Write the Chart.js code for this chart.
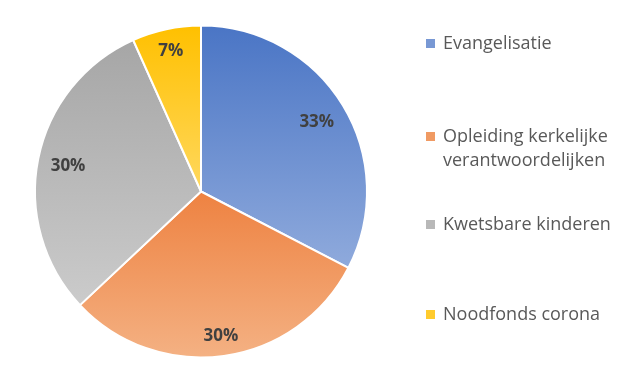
<!DOCTYPE html>
<html>
<head>
<meta charset="utf-8">
<script src="https://cdn.jsdelivr.net/npm/chart.js@4"></script>
<style>
html,body{margin:0;padding:0;background:#fff;}
#wrap{position:relative;width:634px;height:373px;}
</style>
</head>
<body>
<div id="wrap"><canvas id="c" width="634" height="373"></canvas></div>
<script>
// ---- data ----
const categories = ["Evangelisatie", "Opleiding kerkelijke verantwoordelijken", "Kwetsbare kinderen", "Noodfonds corona"];
const shares = [32.6, 30.4, 30.3, 6.7];
const pctLabels = ["33%", "30%", "30%", "7%"];

// ---- styles ----
const gradTop = ["#4a75c5", "#ee8241", "#a6a6a6", "#ffc000"];
const gradBottom = ["#8faadc", "#f4b183", "#cbcbcb", "#ffd85e"];
const legendSwatch = ["#7898d4", "#f09a63", "#b8b8b8", "#ffcb2e"];
const FONT = "'Open Sans', Lato, sans-serif";

const gradientPlugin = {
  id: 'sliceGradient',
  beforeDatasetsDraw(chart) {
    const ctx = chart.ctx;
    const meta = chart.getDatasetMeta(0);
    meta.data.forEach((arc, i) => {
      const p = arc.getProps(['x', 'y', 'startAngle', 'endAngle', 'outerRadius'], true);
      const ys = [p.y, p.y + p.outerRadius * Math.sin(p.startAngle), p.y + p.outerRadius * Math.sin(p.endAngle)];
      const TAU = Math.PI * 2;
      for (let k = -2; k <= 2; k++) {
        const top = -Math.PI / 2 + k * TAU, bot = Math.PI / 2 + k * TAU;
        if (top > p.startAngle && top < p.endAngle) ys.push(p.y - p.outerRadius);
        if (bot > p.startAngle && bot < p.endAngle) ys.push(p.y + p.outerRadius);
      }
      const y0 = Math.min(...ys), y1 = Math.max(...ys);
      const g = ctx.createLinearGradient(0, y0, 0, y1);
      g.addColorStop(0, gradTop[i]);
      g.addColorStop(1, gradBottom[i]);
      arc.options.backgroundColor = g;
    });
  }
};

const labelPlugin = {
  id: 'pctLabels',
  afterDatasetsDraw(chart) {
    const ctx = chart.ctx;
    const meta = chart.getDatasetMeta(0);
    ctx.save();
    ctx.font = "bold 17px " + FONT;
    ctx.fillStyle = "#404040";
    ctx.textAlign = "center";
    ctx.textBaseline = "middle";
    meta.data.forEach((arc, i) => {
      const p = arc.getProps(['x', 'y', 'startAngle', 'endAngle', 'outerRadius'], true);
      const mid = (p.startAngle + p.endAngle) / 2;
      const w = ctx.measureText(pctLabels[i]).width;
      const h = 14;
      const ext = Math.abs(w / 2 * Math.cos(mid)) + Math.abs(h / 2 * Math.sin(mid));
      const r = p.outerRadius - 12 - ext;
      ctx.fillText(pctLabels[i], p.x + r * Math.cos(mid), p.y + r * Math.sin(mid) + 1);
    });
    ctx.restore();
  }
};

const legendPlugin = {
  id: 'sideLegend',
  afterDraw(chart, args, opts) {
    const ctx = chart.ctx;
    ctx.save();
    ctx.font = "18px " + FONT;
    ctx.textBaseline = "alphabetic";
    ctx.textAlign = "left";
    categories.forEach((name, i) => {
      const words = name.split(' ');
      const lines = [];
      let cur = '';
      words.forEach(wd => {
        const t = cur ? cur + ' ' + wd : wd;
        if (ctx.measureText(t).width > opts.maxWidth && cur) { lines.push(cur); cur = wd; }
        else cur = t;
      });
      lines.push(cur);
      const base = opts.baselines[i];
      ctx.fillStyle = legendSwatch[i];
      ctx.fillRect(opts.boxX, base - 10, 9, 9);
      ctx.fillStyle = "#595959";
      lines.forEach((ln, j) => ctx.fillText(ln, opts.textX, base + j * opts.lineHeight));
    });
    ctx.restore();
  }
};

new Chart(document.getElementById('c'), {
  type: 'pie',
  data: {
    labels: categories,
    datasets: [{
      data: shares,
      backgroundColor: gradTop,
      borderColor: '#ffffff',
      borderWidth: 2
    }]
  },
  options: {
    responsive: false,
    animation: false,
    radius: 166,
    layout: { padding: { left: 0, right: 232, top: 10, bottom: 0 } },
    plugins: {
      legend: { display: false },
      tooltip: { enabled: false },
      sideLegend: { boxX: 426, textX: 443, baselines: [49, 142, 230, 320], lineHeight: 24, maxWidth: 185 }
    }
  },
  plugins: [gradientPlugin, labelPlugin, legendPlugin]
});
</script>
</body>
</html>
